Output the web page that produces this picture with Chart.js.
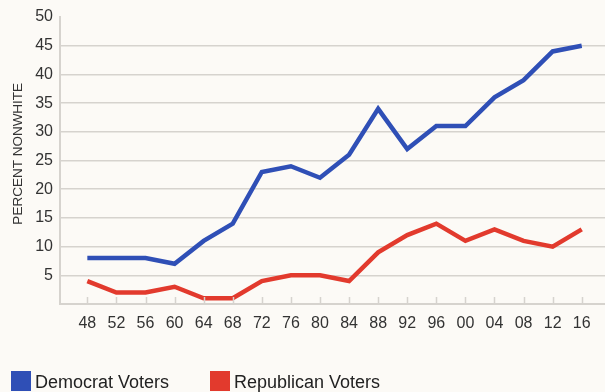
<!DOCTYPE html>
<html>
<head>
<meta charset="utf-8">
<script src="https://cdn.jsdelivr.net/npm/chart.js@4.4.1/dist/chart.umd.min.js"></script>
<style>
  html, body { margin: 0; padding: 0; background: #fcfaf6; }
  #wrap { position: relative; width: 605px; height: 392px; overflow: hidden; }
  #chart { position: absolute; left: 0; top: 0; }
  .key { position: absolute; top: 371px; font: 18px "Liberation Sans", Arial, sans-serif; color: #222; line-height: 20px; }
  .key i { position: absolute; left: 0; top: 0; width: 20px; height: 20px; }
  .key span { position: absolute; left: 24px; top: 1px; white-space: nowrap; }
</style>
</head>
<body>
<div id="wrap">
  <canvas id="chart" width="605" height="392"></canvas>
  <div class="key" style="left:11px"><i style="background:#2f4fb6"></i><span>Democrat Voters</span></div>
  <div class="key" style="left:210px"><i style="background:#e23a2d"></i><span>Republican Voters</span></div>
</div>
<script>
  /* ---- data ------------------------------------------------------ */
  const years      = ["48", "52", "56", "60", "64", "68", "72", "76", "80",
                      "84", "88", "92", "96", "00", "04", "08", "12", "16"];
  const democrat   = [8, 8, 8, 7, 11, 14, 23, 24, 22, 26, 34, 27, 31, 31, 36, 39, 44, 45];
  const republican = [4, 2, 2, 3, 1, 1, 4, 5, 5, 4, 9, 12, 14, 11, 13, 11, 10, 13];
  const yTicks     = [5, 10, 15, 20, 25, 30, 35, 40, 45, 50];

  const C_DEM  = "#2f4fb6";
  const C_REP  = "#e23a2d";
  const C_GRID = "#d6d3ce";
  const C_TEXT = "#333333";
  const FONT   = "'Liberation Sans', Arial, sans-serif";

  const toPoints = (vals) => vals.map((v, i) => ({ x: i, y: v }));

  /* small upward tick marks on the x axis, one per election */
  const innerTicks = {
    id: "innerTicks",
    afterDatasetsDraw(chart) {
      const { ctx, scales: { x }, chartArea } = chart;
      ctx.save();
      ctx.strokeStyle = C_GRID;
      ctx.lineWidth = 1.5;
      years.forEach((_, i) => {
        const px = Math.round(x.getPixelForValue(i)) + 0.5;
        ctx.beginPath();
        ctx.moveTo(px, chartArea.bottom);
        ctx.lineTo(px, chartArea.bottom - 7);
        ctx.stroke();
      });
      ctx.restore();
    },
  };

  new Chart(document.getElementById("chart"), {
    type: "line",
    data: {
      datasets: [
        {
          label: "Democrat Voters",
          data: toPoints(democrat),
          borderColor: C_DEM,
          borderWidth: 4.5,
          borderJoinStyle: "miter",
          pointRadius: 0,
          tension: 0,
        },
        {
          label: "Republican Voters",
          data: toPoints(republican),
          borderColor: C_REP,
          borderWidth: 4.5,
          borderJoinStyle: "miter",
          pointRadius: 0,
          tension: 0,
        },
      ],
    },
    options: {
      responsive: false,
      animation: false,
      layout: { padding: { top: 17, right: 0, left: 0, bottom: 0 } },
      plugins: { legend: { display: false }, tooltip: { enabled: false } },
      scales: {
        x: {
          type: "linear",
          min: -0.94,
          max: 17.8,
          afterBuildTicks: (s) => { s.ticks = years.map((_, i) => ({ value: i })); },
          afterFit: (s) => { s.height = 88; },
          grid: { drawOnChartArea: false, drawTicks: false },
          border: { color: C_GRID, width: 2 },
          ticks: {
            padding: 10,
            color: C_TEXT,
            font: { family: FONT, size: 16 },
            maxRotation: 0,
            autoSkip: false,
            callback: (v) => years[v],
          },
        },
        y: {
          min: 0,
          max: 50,
          afterBuildTicks: (s) => { s.ticks = yTicks.map((v) => ({ value: v })); },
          afterFit: (s) => { s.width = 60; },
          grid: {
            drawTicks: false,
            color: (c) => (c.tick && c.tick.value === 50 ? "rgba(0,0,0,0)" : C_GRID),
            lineWidth: 1.5,
          },
          border: { color: C_GRID, width: 2 },
          ticks: {
            padding: 7,
            color: C_TEXT,
            font: { family: FONT, size: 16 },
          },
          title: {
            display: true,
            text: "\u2003PERCENT NONWHITE",
            color: C_TEXT,
            font: { family: FONT, size: 13.5 },
            padding: { top: 10, bottom: 0 },
          },
        },
      },
    },
    plugins: [innerTicks],
  });
</script>
</body>
</html>
